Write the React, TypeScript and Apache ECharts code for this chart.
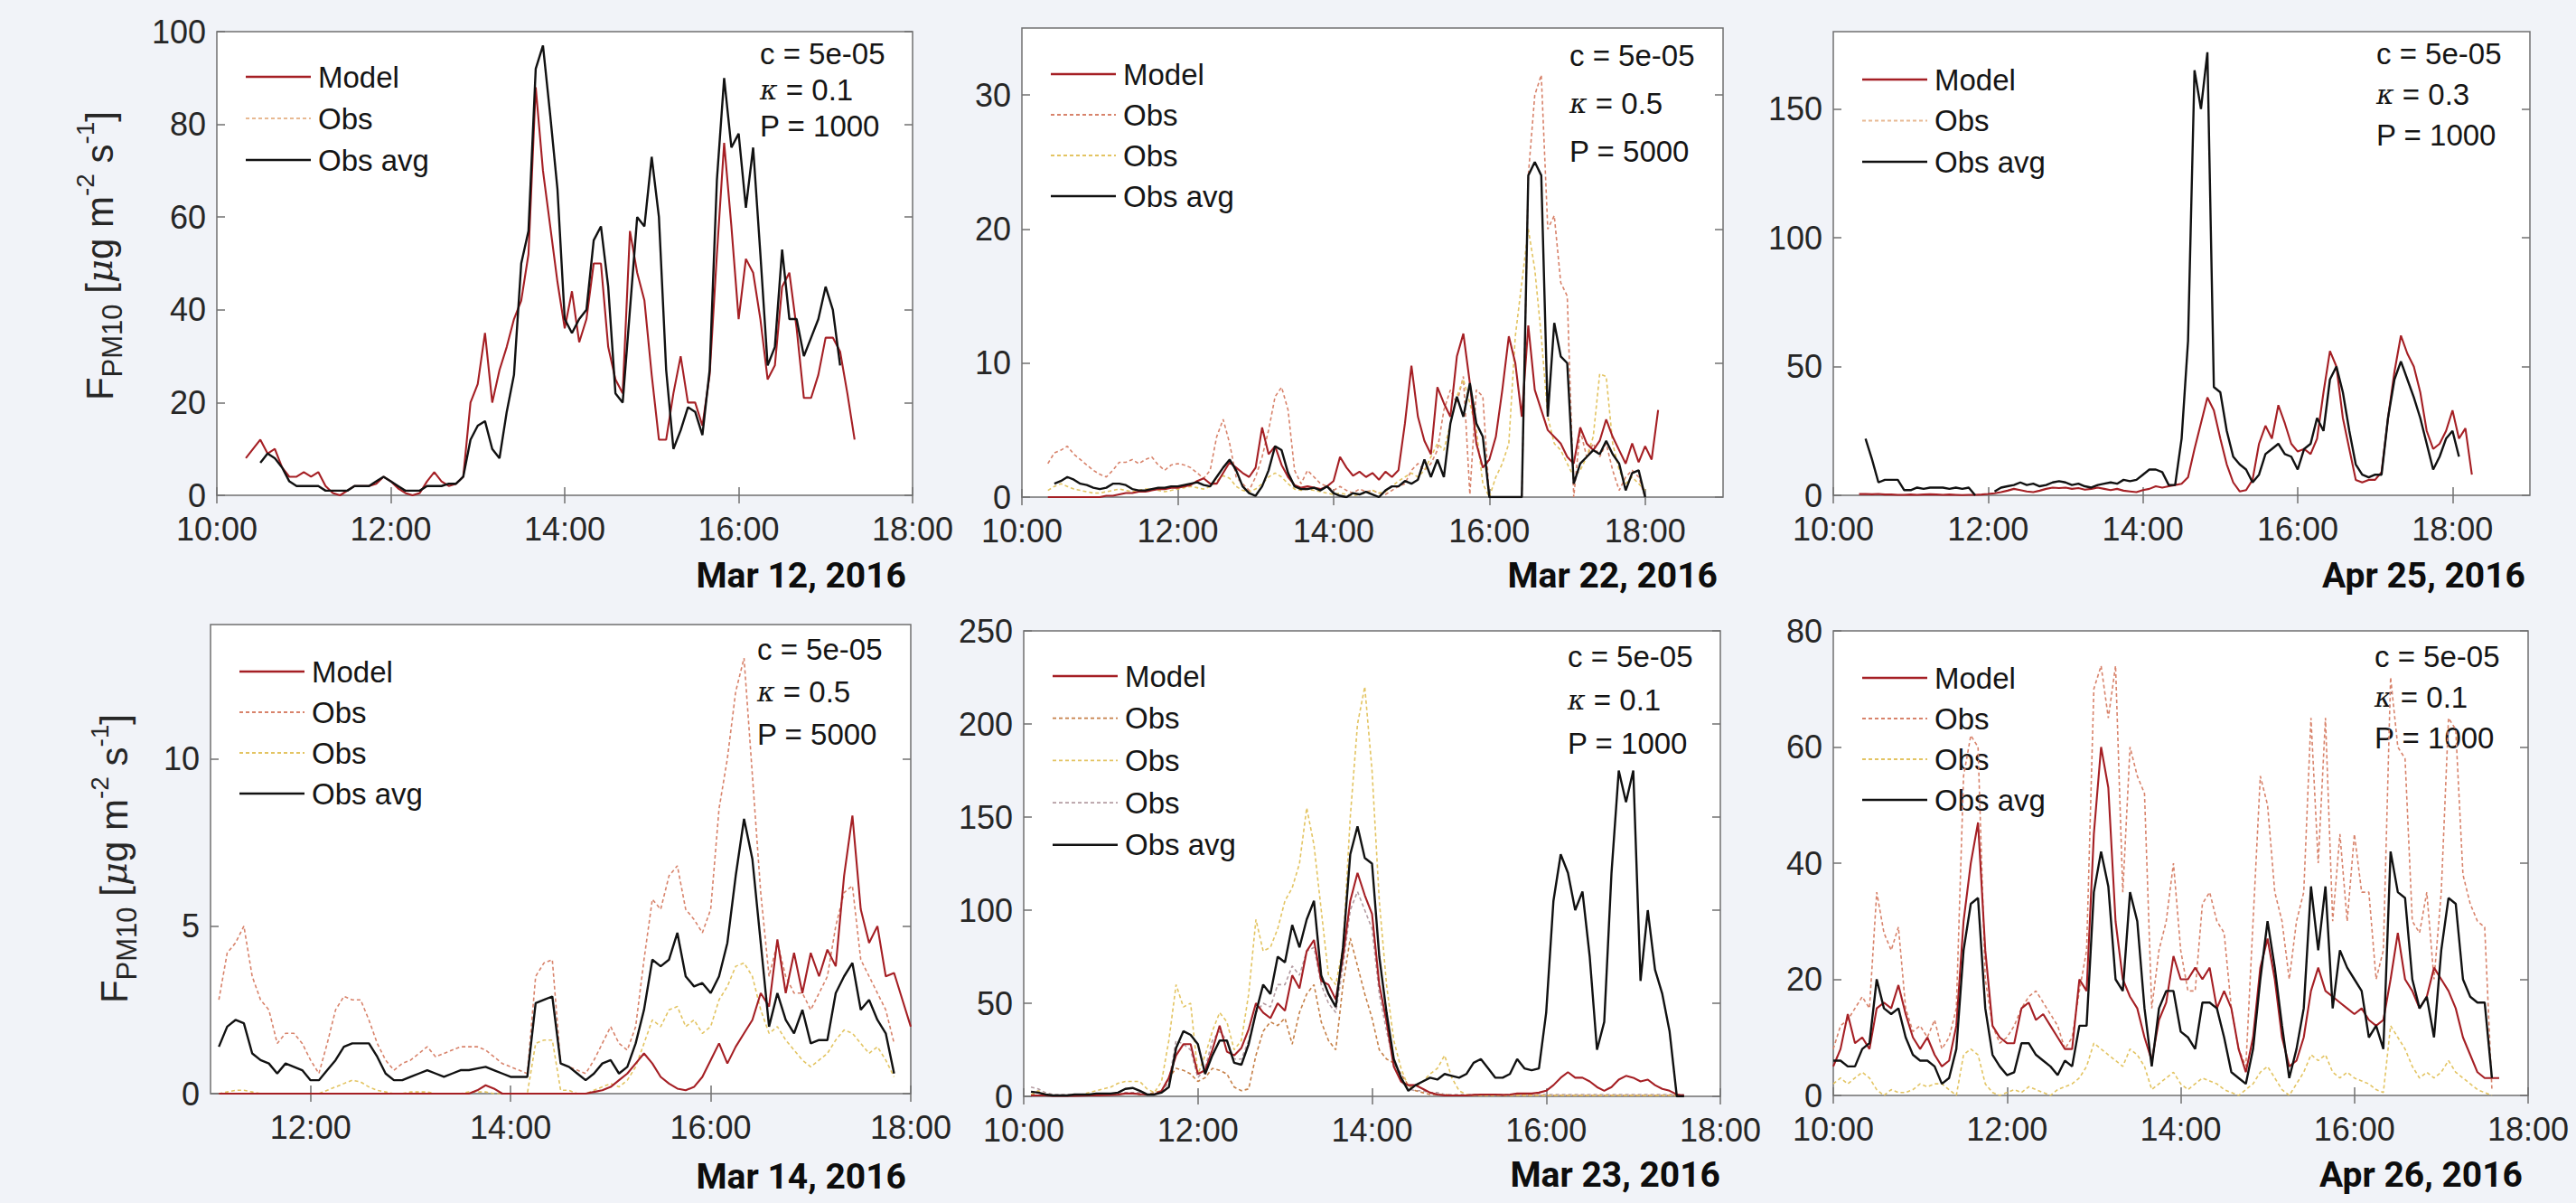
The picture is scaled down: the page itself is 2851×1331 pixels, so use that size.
import React, { useEffect, useRef } from "react";
import * as echarts from "echarts";

// ---------------- DATA (5-minute samples, one row per hour) ----------------
// Panel 1: Mar 12, 2016
const P1_MODEL_START = "10:20";
const P1_MODEL = [
  8, 10, 12, 9, 10, 6, 4, 4,
  5, 4, 5, 2, 0.5, 0, 1, 2, 2, 2, 2.5, 4,
  3, 1.5, 0.5, 0, 0.5, 3, 5, 3, 2, 2.5, 4, 20,
  24, 35, 20, 27, 32, 38, 42, 52, 88, 70, 58, 46,
  36, 44, 33, 38, 50, 50, 32, 25, 22, 57, 48, 42,
  26, 12, 12, 22, 30, 20, 20, 15, 26, 52, 76, 58,
  38, 51, 48, 38, 25, 28, 45, 48, 36, 21, 21, 26,
  34, 34, 31, 22, 12,
];
const P1_AVG_START = "10:30";
const P1_AVG = [
  7, 9, 8, 6, 3, 2,
  2, 2, 2, 1, 1, 1, 1, 2, 2, 2, 3, 4,
  3, 2, 1, 1, 1, 2, 2, 2, 2.5, 2.5, 4, 12,
  15, 16, 10, 8, 18, 26, 50, 57, 92, 97, 82, 66,
  38, 35, 38, 40, 55, 58, 45, 22, 20, 40, 60, 58,
  73, 60, 27, 10, 14, 19, 18, 13, 27, 68, 90, 75,
  78, 62, 75, 52, 28, 32, 53, 38, 38, 30, 34, 38,
  45, 40, 28,
];

// Panel 2: Mar 22, 2016
const P2_MODEL_START = "10:20";
const P2_MODEL = [
  0, 0, 0, 0, 0, 0, 0, 0,
  0, 0.1, 0.1, 0.2, 0.3, 0.3, 0.4, 0.4, 0.5, 0.6, 0.6, 0.7,
  0.7, 0.8, 0.9, 1.2, 1.4, 1.0, 1.0, 1.8, 2.6, 2.2, 1.8, 1.5,
  2.2, 5.2, 3.2, 3.8, 2.4, 1.5, 0.9, 0.7, 0.8, 0.7, 0.6, 0.8,
  1.2, 3.0, 2.2, 1.6, 1.9, 1.5, 1.8, 1.3, 1.9, 1.5, 2.0, 5.5,
  9.8, 6.0, 4.2, 3.2, 8.2, 7.0, 6.0, 10.5, 12.2, 8.5, 4.0, 2.2,
  2.8, 4.5, 8.0, 12.0, 10.0, 6.0, 12.8, 8.0, 6.5, 5.0, 4.5, 4.0,
  3.0, 2.5, 5.2, 4.0, 3.5, 4.2, 5.8, 4.5, 3.5, 2.5, 4.0, 2.6,
  3.8, 2.8, 6.5,
];
const P2_OBS1_START = "10:20";
const P2_OBS1 = [
  2.5, 3.3, 3.5, 3.8, 3.2, 2.8, 2.4, 2.0,
  1.7, 1.5, 2.0, 2.6, 2.6, 2.8, 2.5, 2.8, 3.0, 2.4, 2.0, 2.4,
  2.5, 2.4, 2.2, 1.8, 1.4, 2.0, 4.5, 5.8, 4.0, 1.5, 1.0, 0.5,
  1.5, 3.0, 5.0, 7.5, 8.2, 6.5, 2.0, 1.0, 2.0, 1.5, 1.0, 0.8,
  0.5, 0.8, 0.5, 0.3, 0.6, 0.4, 0.5, 0.3, 0.2, 0.5, 0.8, 1.0,
  2.0, 2.5, 2.0, 2.5, 3.5, 6.5, 8.0, 7.0, 9.0, 0.2, 8.0, 7.5,
  0, 0, 0, 0, 0, 0, 24, 30, 31.5, 20, 21, 16,
  15, 0, 5, 3, 4, 3, 4, 2, 0.5, 1.5, 2, 1.5,
  0,
];
const P2_OBS2_START = "10:20";
const P2_OBS2 = [
  0.5, 0.8, 1.0, 0.8, 0.6, 0.5, 0.4, 0.3,
  0.3, 0.4, 0.5, 0.6, 0.5, 0.4, 0.5, 0.6, 0.6, 0.5, 0.4, 0.5,
  0.6, 0.7, 0.8, 0.7, 0.6, 0.8, 1.2, 1.6, 1.4, 0.8, 0.5, 0.4,
  0.6, 1.0, 1.5, 1.8, 1.5, 1.0, 0.6, 0.5, 0.6, 0.5, 0.4, 0.3,
  0.2, 0.3, 0.2, 0.1, 0.2, 0.3, 0.5, 0.3, 0.4, 0.8, 1.2, 1.5,
  1.8, 1.5, 2.0, 3.0, 4.0, 3.5, 5.5, 7.5, 8.8, 7.0, 5.0, 1.0,
  0.0, 1.5, 2.5, 4.0, 12.0, 16.0, 20.0, 17.0, 12.0, 6.0, 4.0, 3.5,
  2.5, 1.5, 2.0, 3.0, 4.5, 9.2, 9.0, 4.0, 2.0, 1.0, 1.5, 1.0,
  0.5,
];
const P2_AVG_START = "10:25";
const P2_AVG = [
  1.0, 1.2, 1.5, 1.3, 1.0, 0.9, 0.7,
  0.6, 0.7, 1.0, 1.0, 0.9, 0.6, 0.5, 0.5, 0.6, 0.7, 0.7, 0.8,
  0.8, 0.9, 1.0, 1.1, 0.9, 0.8, 1.5, 2.2, 2.8, 2.0, 0.8, 0.3,
  0.1, 0.8, 2.0, 3.8, 3.5, 1.8, 0.8, 0.6, 0.6, 0.7, 0.5, 0.8,
  0.3, 0.1, 0.0, 0.3, 0.2, 0.4, 0.2, 0.0, 0.5, 0.8, 0.8, 1.2,
  1.0, 1.3, 2.8, 1.5, 2.8, 1.5, 5.5, 7.5, 6.0, 8.5, 5.5, 4.5,
  0, 0, 0, 0, 0, 0, 24, 25, 24, 6, 13, 10.5,
  10, 1.0, 2.5, 3.0, 3.5, 3.2, 4.2, 3.2, 2.5, 0.5, 1.8, 2.0,
  0,
];

// Panel 3: Apr 25, 2016
const P3_MODEL_START = "10:20";
const P3_MODEL = [
  0.5, 0.5, 0.4, 0.5, 0.3, 0.3, 0.2, 0.2,
  0.3, 0.2, 0.3, 0.4, 0.3, 0.2, 0.3, 0.2, 0.1, 0.2, 0.2, 0.3,
  0.5, 0.8, 1.2, 1.8, 2.5, 2.0, 1.5, 1.2, 1.8, 2.5, 3.0, 2.8,
  3.0, 2.5, 2.8, 2.2, 2.5, 3.0, 2.5, 2.0, 2.5, 1.8, 1.5, 1.2,
  2.0, 2.5, 3.5, 3.0, 3.5, 4.0, 4.5, 7, 18, 28, 38, 33,
  22, 12, 5, 1.5, 2, 6, 20, 27, 22, 35, 28, 20,
  17, 18, 16, 22, 40, 56, 50, 30, 18, 6, 5, 6,
  6, 9, 30, 48, 62, 55, 50, 40, 25, 18, 20, 25,
  33, 22, 26, 8,
];
const P3_AVG_START = "10:25";
const P3_AVG = [
  22, 14, 5, 6, 6, 6, 2,
  2, 3, 2.5, 3, 3, 3, 2.5, 3, 2.5, 3, 0, null,
  null, 1.5, 3, 3.5, 4, 5, 4, 4.5, 3.5, 4, 5, 5.5,
  5, 4, 4.5, 3.5, 3, 4, 4.5, 5, 4.5, 6, 5.5, 6,
  8, 10, 10, 9, 4, 4, 22, 60, 165, 150, 172, 42,
  40, 25, 15, 12, 10, 5, 8, 16, 18, 20, 16, 15,
  10, 18, 20, 30, 25, 45, 50, 40, 25, 12, 8, 7,
  8, 8, 30, 45, 52, 45, 38, 30, 20, 10, 15, 22,
  25, 15,
];

// Panel 4: Mar 14, 2016
const P4_MODEL_START = "11:05";
const P4_MODEL = [
  0, 0, 0, 0, 0, 0, 0, 0, 0, 0, 0,
  0, 0, 0, 0, 0, 0, 0, 0, 0, 0, 0, 0,
  0, 0, 0, 0, 0, 0, 0, 0, 0.1, 0.25, 0.15, 0,
  0, 0, 0, 0, 0, 0, 0, 0, 0, 0, 0.05, 0.1,
  0.2, 0.4, 0.6, 0.9, 1.2, 0.9, 0.5, 0.3, 0.15, 0.1, 0.2, 0.5,
  1.0, 1.5, 0.9, 1.4, 1.8, 2.2, 3.0, 2.6, 4.6, 3.0, 4.2, 3.0,
  4.2, 3.5, 4.3, 3.8, 6.5, 8.3, 5.5, 4.5, 5.0, 3.5, 3.6, 2.8,
  2.0,
];
const P4_OBS1_START = "11:05";
const P4_OBS1 = [
  2.8, 4.2, 4.5, 5.0, 3.5, 2.8, 2.5, 1.5, 1.8, 1.8, 1.5,
  1.0, 0.6, 1.5, 2.5, 2.9, 2.8, 2.8, 2.2, 1.5, 1.0, 0.7, 0.9,
  1.0, 1.2, 1.4, 1.1, 1.2, 1.3, 1.4, 1.4, 1.4, 1.3, 1.1, 0.9,
  0.8, 0.7, 0.6, 3.5, 3.9, 4.0, 0.9, 0.8, 0.7, 0.6, 1.0, 1.5,
  2.0, 1.5, 1.3, 2.0, 4.0, 5.8, 5.5, 6.5, 6.8, 5.5, 5.2, 4.8,
  5.5, 8.5, 10.0, 12.0, 13.0, 9.5, 6.0, 3.5, 4.5, 3.5, 3.0, 3.0,
  2.5, 3.0, 3.5, 5.0, 6.0, 6.2, 4.0, 3.5, 3.0, 2.5, 1.5,
];
const P4_OBS2_START = "11:05";
const P4_OBS2 = [
  0, 0.05, 0.1, 0.1, 0.05, 0, 0, 0, 0, 0, 0,
  0, 0, 0.1, 0.2, 0.3, 0.4, 0.35, 0.2, 0.1, 0.05, 0, 0,
  0.05, 0.05, 0.05, 0, 0, 0, 0, 0.05, 0.05, 0.05, 0, 0,
  0, 0, 0, 1.5, 1.6, 1.6, 0.1, 0.1, 0, 0, 0.1, 0.2,
  0.3, 0.2, 0.4, 0.8, 1.5, 2.2, 2.0, 2.5, 2.6, 2.0, 2.2, 1.8,
  2.0, 2.8, 3.2, 3.8, 3.9, 3.5, 2.5, 1.8, 2.0, 1.6, 1.3, 1.0,
  0.8, 1.0, 1.2, 1.6, 1.9, 1.8, 1.5, 1.2, 1.4, 1.0, 0.5,
];
const P4_AVG_START = "11:05";
const P4_AVG = [
  1.4, 2.0, 2.2, 2.1, 1.2, 1.0, 0.9, 0.6, 0.9, 0.8, 0.7,
  0.4, 0.4, 0.7, 1.0, 1.4, 1.5, 1.5, 1.5, 1.1, 0.6, 0.4, 0.4,
  0.5, 0.6, 0.7, 0.6, 0.5, 0.6, 0.7, 0.7, 0.75, 0.8, 0.7, 0.6,
  0.5, 0.5, 0.5, 2.7, 2.8, 2.9, 0.9, 0.8, 0.6, 0.4, 0.6, 0.9,
  1.0, 0.6, 0.8, 1.5, 2.5, 4.0, 3.8, 4.0, 4.8, 3.5, 3.2, 3.3,
  3.0, 3.5, 4.5, 6.5, 8.2, 7.0, 4.5, 2.0, 3.0, 2.2, 1.8, 2.5,
  1.5, 1.6, 1.6, 3.0, 3.5, 3.9, 2.5, 2.8, 2.2, 1.8, 0.6,
];

// Panel 5: Mar 23, 2016
const P5_MODEL_START = "10:05";
const P5_MODEL = [
  0.5, 0.5, 0.5, 0.3, 0.3, 0.3, 0.3, 0.4, 0.5, 0.5, 0.6,
  0.8, 1, 1.5, 1.5, 1.2, 1, 1, 3, 10, 22, 28, 28,
  12, 14, 25, 38, 24, 22, 26, 36, 50, 45, 42, 50,
  46, 65, 58, 78, 84, 62, 60, 52, 75, 105, 120, 108,
  98, 60, 40, 16, 8, 6, 6, 4, 2, 1, 0.5, 0.5,
  0.5, 0.5, 0.8, 1, 1, 1, 0.8, 1, 1.5, 1.5, 1.5, 2,
  3, 6, 10, 13, 10, 10, 8, 5, 3, 5, 9, 11,
  10, 8, 9, 6, 4, 3, 1, 0.5,
];
const P5_OBS1_START = "10:05";
const P5_OBS1 = [
  1, 2, 1, 0.5, 0.5, 0.5, 0.5, 0.5, 0.5, 1, 1,
  1, 1, 1.5, 1.5, 1, 1, 2, 3, 10, 15, 14, 12,
  8, 10, 15, 14, 12, 5, 3, 4, 22, 35, 40, 38,
  42, 28, 45, 55, 60, 40, 30, 25, 60, 85, 70, 55,
  42, 25, 20, 18, 12, 6, 3, 2, 1, 1, 1, 0.5,
  0.5, 0.5, 0.5, 0.5, 0.5, 0.5, 0.5, 0.5, 0.5, 0.5, 0.5, 0.5,
  0.5, 0.5, 0.5, 0.5, 0.5, 0.5, 0.5, 0.5, 0.5, 0.5, 0.5, 0.5,
  0.5, 0.5, 0.5, 0.5, 0.5, 0.5, 0.5, 0.5,
];
const P5_OBS2_START = "10:05";
const P5_OBS2 = [
  1, 3, 1, 0.5, 0.5, 0.5, 1, 1, 2, 3, 4,
  5, 7, 8, 8, 8, 4, 2, 8, 30, 60, 48, 50,
  12, 22, 35, 45, 40, 25, 30, 55, 95, 78, 80, 90,
  105, 112, 125, 155, 135, 100, 65, 60, 80, 150, 200, 220,
  175, 105, 60, 30, 15, 5, 5, 8, 12, 15, 22, 10,
  3, 1, 0.5, 0.5, 0.5, 0.5, 0.5, 0.5, 0.5, 0.5, 0.5, 0.5,
  0.5, 0.5, 0.5, 0.5, 0.5, 0.5, 0.5, 0.5, 0.5, 0.5, 0.5, 0.5,
  0.5, 0.5, 0.5, 0.5, 0.5, 0.5, 0.5, 0.5,
];
const P5_OBS3_START = "10:05";
const P5_OBS3 = [
  5, 4, 2, 1, 1, 1, 1, 1, 1, 1, 1,
  1, 1, 2, 2, 2, 1, 1, 2, 8, 30, 28, 25,
  10, 15, 30, 35, 30, 20, 20, 30, 45, 50, 48, 60,
  60, 70, 65, 78, 80, 60, 50, 45, 70, 100, 110, 100,
  90, 55, 35, 18, 8, 4, 3, 3, 2, 2, 1, 1,
  1, 1, 1, 1, 1, 1, 1, 1, 1, 1, 1, 1,
  1, 1, 1, 1, 1, 1, 1, 1, 1, 1, 1, 1,
  1, 1, 1, 1, 1, 1, 1, 1,
];
const P5_AVG_START = "10:05";
const P5_AVG = [
  2.5, 2, 1, 0.5, 0.5, 0.5, 1, 1, 1, 1.5, 1.5,
  1.5, 2, 4, 4.5, 3, 1, 1, 2, 5, 26, 35, 33,
  28, 12, 22, 30, 30, 18, 17, 28, 45, 60, 55, 75,
  72, 92, 80, 95, 105, 65, 55, 48, 80, 130, 145, 128,
  125, 75, 45, 20, 10, 3, 6, 8, 10, 9, 12, 11,
  10, 12, 18, 20, 15, 10, 10, 12, 20, 15, 14, 15,
  45, 105, 130, 120, 100, 110, 75, 25, 40, 120, 175, 158,
  175, 62, 100, 68, 55, 35, 0, 0,
];

// Panel 6: Apr 26, 2016
const P6_MODEL_START = "10:00";
const P6_MODEL = [
  5, 8, 14, 9, 10, 8, 15, 16, 15, 19, 14, 10,
  8, 10, 7, 5, 6, 12, 30, 40, 47, 25, 12, 10,
  9, 9, 15, 16, 13, 14, 12, 10, 8, 8, 20, 18,
  45, 60, 53, 30, 20, 17, 15, 10, 6, 13, 16, 24,
  20, 20, 22, 20, 22, 15, 18, 15, 8, 4, 10, 22,
  27, 20, 10, 5, 6, 10, 18, 22, 18, 17, 16, 15,
  14, 15, 13, 12, 13, 20, 28, 20, 18, 15, 17, 22,
  20, 18, 15, 10, 7, 4, 3, 3, 3,
];
const P6_OBS1_START = "10:00";
const P6_OBS1 = [
  8, 12, 13, 15, 17, 15, 35, 28, 25, 29, 15, 11,
  12, 10, 13, 8, 10, 15, 55, 62, 60, 20, 12, 9,
  10, 12, 15, 17, 18, 16, 14, 12, 8, 10, 18, 25,
  70, 74, 65, 74, 35, 60, 55, 52, 15, 25, 30, 40,
  25, 18, 18, 33, 35, 30, 28, 15, 8, 5, 30, 55,
  50, 35, 30, 20, 30, 35, 65, 40, 65, 30, 45, 30,
  45, 35, 35, 20, 25, 72, 60, 58, 30, 28, 35, 20,
  35, 65, 63, 38, 33, 30, 29, 1,
];
const P6_OBS2_START = "10:00";
const P6_OBS2 = [
  2, 3, 2, 3, 4, 3, 1, 0, 1, 0.5, 0.5, 1,
  2, 1.5, 2, 2, 1, 0, 7, 8, 7, 2, 0.5, 0,
  0.5, 1, 0.5, 1.5, 1, 0.5, 0, 1, 1.5, 2, 3, 5,
  9, 8, 7, 6, 5, 8, 7, 5, 1, 2, 3, 4,
  2, 1, 2, 3, 2.5, 2, 1, 0.5, 0, 1, 2, 4,
  5, 3, 1, 0, 2, 4, 7, 6, 7, 4, 3, 4,
  3, 2.5, 2, 1, 0.5, 12, 10, 8, 5, 3, 4, 3,
  4, 6, 4, 3, 2, 1, 0.5, 0,
];
const P6_AVG_START = "10:00";
const P6_AVG = [
  6, 6, 5, 5, 8, 9, 20, 15, 14, 15, 10, 7,
  6, 6, 5, 2, 3, 8, 25, 33, 34, 15, 7, 5,
  3.5, 4, 9, 9, 7, 6, 5, 3.5, 6, 5, 12, 12,
  35, 42, 36, 20, 18, 35, 30, 15, 5, 15, 18, 18,
  11, 10, 8, 16, 16, 15, 10, 4, 3, 2, 8, 20,
  30, 22, 12, 3, 8, 15, 36, 25, 36, 15, 25, 22,
  20, 18, 10, 12, 8, 42, 35, 34, 20, 15, 17, 10,
  25, 34, 33, 20, 17, 16, 16, 3,
];

// Axis ticks
const X_TICKS_A = [10, 12, 14, 16, 18];
const X_TICKS_B = [12, 14, 16, 18];
const Y_TICKS_1 = [0, 20, 40, 60, 80, 100];
const Y_TICKS_2 = [0, 10, 20, 30];
const Y_TICKS_3 = [0, 50, 100, 150];
const Y_TICKS_4 = [0, 5, 10];
const Y_TICKS_5 = [0, 50, 100, 150, 200, 250];
const Y_TICKS_6 = [0, 20, 40, 60, 80];

const DATES = ["Mar 12, 2016", "Mar 22, 2016", "Apr 25, 2016", "Mar 14, 2016", "Mar 23, 2016", "Apr 26, 2016"];
const PARAM_C = ["5e-05", "5e-05", "5e-05", "5e-05", "5e-05", "5e-05"];
const PARAM_K = ["0.1", "0.5", "0.3", "0.5", "0.1", "0.1"];
const PARAM_P = ["1000", "5000", "1000", "5000", "1000", "1000"];

// ---------------- STYLE ----------------
const FONT = '"Liberation Sans", Arial, Helvetica, sans-serif';
const BG = "#f1f3f8";
const C_MODEL = "#a51f24";
const C_AVG = "#111111";
const C_SALMON = "#d8836b";
const C_YELLOW = "#e3c462";
const C_BROWN = "#c68048";
const C_MAUVE = "#b49ca2";
const C_FAINT = "#e8b992";
const AXIS_C = "#707070";
const TEXT_C = "#262626";

const toH = (s: string) => {
  const [h, m] = s.split(":").map(Number);
  return h + m / 60;
};
const pairs = (start: string, vals: (number | null)[]) => {
  const t0 = toH(start);
  return vals.map((v, i) => [t0 + (i * 5) / 60, v]);
};

type S = { name: string; start: string; vals: (number | null)[]; color: string; kind: "model" | "obs" | "avg" };
type L = { name: string; color: string; kind: "model" | "obs" | "avg" };

const panels = [
  {
    g: { left: 240, top: 35, width: 770, height: 513 },
    xMin: 10, xMax: 18, xTicks: X_TICKS_A, yMax: 100, yTicks: Y_TICKS_1,
    series: [
      { name: "Model", start: P1_MODEL_START, vals: P1_MODEL, color: C_MODEL, kind: "model" },
      { name: "Obs avg", start: P1_AVG_START, vals: P1_AVG, color: C_AVG, kind: "avg" },
    ] as S[],
    legend: [
      { name: "Model", color: C_MODEL, kind: "model" },
      { name: "Obs", color: C_FAINT, kind: "obs" },
      { name: "Obs avg", color: C_AVG, kind: "avg" },
    ] as L[],
    leg: { y0: 85, dy: 46 }, ann: { x: 841, y0: 59, dy: 40 }, date: { x: 1003, y: 637 },
    ytitle: { x: 110, y: 283 },
  },
  {
    g: { left: 1131, top: 31, width: 776, height: 519 },
    xMin: 10, xMax: 19, xTicks: X_TICKS_A, yMax: 35, yTicks: Y_TICKS_2,
    series: [
      { name: "Obs", start: P2_OBS1_START, vals: P2_OBS1, color: C_SALMON, kind: "obs" },
      { name: "Obs", start: P2_OBS2_START, vals: P2_OBS2, color: C_YELLOW, kind: "obs" },
      { name: "Model", start: P2_MODEL_START, vals: P2_MODEL, color: C_MODEL, kind: "model" },
      { name: "Obs avg", start: P2_AVG_START, vals: P2_AVG, color: C_AVG, kind: "avg" },
    ] as S[],
    legend: [
      { name: "Model", color: C_MODEL, kind: "model" },
      { name: "Obs", color: C_SALMON, kind: "obs" },
      { name: "Obs", color: C_YELLOW, kind: "obs" },
      { name: "Obs avg", color: C_AVG, kind: "avg" },
    ] as L[],
    leg: { y0: 82, dy: 45 }, ann: { x: 1737, y0: 61, dy: 53 }, date: { x: 1901, y: 637 },
    ytitle: null,
  },
  {
    g: { left: 2029, top: 35, width: 771, height: 513 },
    xMin: 10, xMax: 19, xTicks: X_TICKS_A, yMax: 180, yTicks: Y_TICKS_3,
    series: [
      { name: "Model", start: P3_MODEL_START, vals: P3_MODEL, color: C_MODEL, kind: "model" },
      { name: "Obs avg", start: P3_AVG_START, vals: P3_AVG, color: C_AVG, kind: "avg" },
    ] as S[],
    legend: [
      { name: "Model", color: C_MODEL, kind: "model" },
      { name: "Obs", color: C_FAINT, kind: "obs" },
      { name: "Obs avg", color: C_AVG, kind: "avg" },
    ] as L[],
    leg: { y0: 88, dy: 45.5 }, ann: { x: 2630, y0: 59, dy: 45 }, date: { x: 2795, y: 637 },
    ytitle: null,
  },
  {
    g: { left: 233, top: 691, width: 775, height: 519 },
    xMin: 11, xMax: 18, xTicks: X_TICKS_B, yMax: 14, yTicks: Y_TICKS_4,
    series: [
      { name: "Obs", start: P4_OBS1_START, vals: P4_OBS1, color: C_SALMON, kind: "obs" },
      { name: "Obs", start: P4_OBS2_START, vals: P4_OBS2, color: C_YELLOW, kind: "obs" },
      { name: "Model", start: P4_MODEL_START, vals: P4_MODEL, color: C_MODEL, kind: "model" },
      { name: "Obs avg", start: P4_AVG_START, vals: P4_AVG, color: C_AVG, kind: "avg" },
    ] as S[],
    legend: [
      { name: "Model", color: C_MODEL, kind: "model" },
      { name: "Obs", color: C_SALMON, kind: "obs" },
      { name: "Obs", color: C_YELLOW, kind: "obs" },
      { name: "Obs avg", color: C_AVG, kind: "avg" },
    ] as L[],
    leg: { y0: 743, dy: 45 }, ann: { x: 838, y0: 718, dy: 47 }, date: { x: 1003, y: 1302 },
    ytitle: { x: 126, y: 950 },
  },
  {
    g: { left: 1133, top: 698, width: 771, height: 515 },
    xMin: 10, xMax: 18, xTicks: X_TICKS_A, yMax: 250, yTicks: Y_TICKS_5,
    series: [
      { name: "Obs", start: P5_OBS3_START, vals: P5_OBS3, color: C_MAUVE, kind: "obs" },
      { name: "Obs", start: P5_OBS1_START, vals: P5_OBS1, color: C_BROWN, kind: "obs" },
      { name: "Obs", start: P5_OBS2_START, vals: P5_OBS2, color: C_YELLOW, kind: "obs" },
      { name: "Model", start: P5_MODEL_START, vals: P5_MODEL, color: C_MODEL, kind: "model" },
      { name: "Obs avg", start: P5_AVG_START, vals: P5_AVG, color: C_AVG, kind: "avg" },
    ] as S[],
    legend: [
      { name: "Model", color: C_MODEL, kind: "model" },
      { name: "Obs", color: C_BROWN, kind: "obs" },
      { name: "Obs", color: C_YELLOW, kind: "obs" },
      { name: "Obs", color: C_MAUVE, kind: "obs" },
      { name: "Obs avg", color: C_AVG, kind: "avg" },
    ] as L[],
    leg: { y0: 748, dy: 46.7 }, ann: { x: 1735, y0: 726, dy: 48 }, date: { x: 1904, y: 1300 },
    ytitle: null,
  },
  {
    g: { left: 2029, top: 698, width: 769, height: 514 },
    xMin: 10, xMax: 18, xTicks: X_TICKS_A, yMax: 80, yTicks: Y_TICKS_6,
    series: [
      { name: "Obs", start: P6_OBS1_START, vals: P6_OBS1, color: C_SALMON, kind: "obs" },
      { name: "Obs", start: P6_OBS2_START, vals: P6_OBS2, color: C_YELLOW, kind: "obs" },
      { name: "Model", start: P6_MODEL_START, vals: P6_MODEL, color: C_MODEL, kind: "model" },
      { name: "Obs avg", start: P6_AVG_START, vals: P6_AVG, color: C_AVG, kind: "avg" },
    ] as S[],
    legend: [
      { name: "Model", color: C_MODEL, kind: "model" },
      { name: "Obs", color: C_SALMON, kind: "obs" },
      { name: "Obs", color: C_YELLOW, kind: "obs" },
      { name: "Obs avg", color: C_AVG, kind: "avg" },
    ] as L[],
    leg: { y0: 750, dy: 45 }, ann: { x: 2628, y0: 726, dy: 45 }, date: { x: 2792, y: 1300 },
    ytitle: null,
  },
];

const lineW = (k: string) => (k === "avg" ? 2.4 : k === "model" ? 2.1 : 1.6);
const dash = (k: string) => (k === "obs" ? [4, 3] : undefined);

function buildOption() {
  const grid: any[] = [];
  const xAxis: any[] = [];
  const yAxis: any[] = [];
  const series: any[] = [];
  const graphic: any[] = [];

  panels.forEach((p, i) => {
    grid.push({
      ...p.g,
      show: true,
      backgroundColor: "#ffffff",
      borderColor: AXIS_C,
      borderWidth: 1.5,
      containLabel: false,
    });
    const tick = { show: true, inside: true, length: 9, lineStyle: { color: AXIS_C, width: 1.5 } };
    ["bottom", "top"].forEach((pos) => {
      xAxis.push({
        gridIndex: i,
        type: "value",
        position: pos,
        min: p.xMin,
        max: p.xMax,
        axisLine: { show: false },
        splitLine: { show: false },
        axisTick: { ...tick, customValues: p.xTicks },
        axisLabel: {
          show: pos === "bottom",
          customValues: p.xTicks,
          formatter: (v: number) => `${v}:00`,
          fontFamily: FONT,
          fontSize: 36,
          color: TEXT_C,
          margin: 19,
        },
      });
    });
    ["left", "right"].forEach((pos) => {
      yAxis.push({
        gridIndex: i,
        type: "value",
        position: pos,
        min: 0,
        max: p.yMax,
        axisLine: { show: false },
        splitLine: { show: false },
        axisTick: { ...tick, customValues: p.yTicks },
        axisLabel: {
          show: pos === "left",
          customValues: p.yTicks,
          fontFamily: FONT,
          fontSize: 36,
          color: TEXT_C,
          margin: 12,
        },
      });
    });
    p.series.forEach((s) => {
      series.push({
        type: "line",
        name: s.name,
        xAxisIndex: i * 2,
        yAxisIndex: i * 2,
        data: pairs(s.start, s.vals),
        showSymbol: false,
        symbol: "none",
        connectNulls: false,
        clip: true,
        silent: true,
        lineStyle: { color: s.color, width: lineW(s.kind), type: dash(s.kind) ?? "solid" },
      });
    });

    // legend (drawn manually, MATLAB style)
    const lx = p.g.left + 32;
    p.legend.forEach((l, j) => {
      const y = p.leg.y0 + j * p.leg.dy;
      graphic.push({
        type: "line",
        silent: true,
        shape: { x1: lx, y1: y, x2: lx + 72, y2: y },
        style: { stroke: l.color, lineWidth: l.kind === "obs" ? 1.8 : 2.4, lineDash: dash(l.kind) ?? null },
      });
      graphic.push({
        type: "text",
        silent: true,
        x: lx + 80,
        y,
        style: { text: l.name, fill: "#151515", font: `33px ${FONT}`, align: "left", verticalAlign: "middle" },
      });
    });

    // parameter annotation
    const annRich = {
      n: { fontFamily: FONT, fontSize: 33, fill: "#151515", color: "#151515" },
      i: { fontFamily: "DejaVu Serif, serif", fontStyle: "italic", fontSize: 30, fill: "#151515", color: "#151515" },
    };
    const annLines = [`{n|c = ${PARAM_C[i]}}`, `{i|κ}{n| = ${PARAM_K[i]}}`, `{n|P = ${PARAM_P[i]}}`];
    annLines.forEach((t, j) => {
      graphic.push({
        type: "text",
        silent: true,
        x: p.ann.x,
        y: p.ann.y0 + j * p.ann.dy,
        style: { text: t, rich: annRich, fill: "#151515", font: `33px ${FONT}`, align: "left", verticalAlign: "middle" },
      });
    });

    // date
    graphic.push({
      type: "text",
      silent: true,
      x: p.date.x,
      y: p.date.y,
      style: {
        text: DATES[i],
        fill: "#0d0d0d",
        font: `bold 39px Roboto, "Liberation Sans", sans-serif`,
        align: "right",
        verticalAlign: "middle",
      },
    });

    // y-axis title on left column
    if (p.ytitle) {
      const base = { fontFamily: FONT, fill: "#262626", color: "#262626" };
      graphic.push({
        type: "text",
        silent: true,
        x: p.ytitle.x,
        y: p.ytitle.y,
        rotation: Math.PI / 2,
        style: {
          text: "{n|F}{s|PM10}{n| [}{m|μ}{n|g m}{u|-2}{n| s}{u|-1}{n|]}",
          rich: {
            n: { ...base, fontSize: 42, lineHeight: 60 },
            m: { ...base, fontFamily: "DejaVu Serif, serif", fontStyle: "italic", fontSize: 40, lineHeight: 60 },
            s: { ...base, fontSize: 31, lineHeight: 31, verticalAlign: "bottom" },
            u: { ...base, fontSize: 28, lineHeight: 28, verticalAlign: "top" },
          },
          align: "center",
          verticalAlign: "middle",
        },
      });
    }
  });

  return {
    animation: false,
    backgroundColor: BG,
    grid,
    xAxis,
    yAxis,
    series,
    graphic: { elements: graphic },
  };
}

export default function App() {
  const ref = useRef<HTMLDivElement>(null);
  useEffect(() => {
    if (!ref.current) return;
    const chart = echarts.init(ref.current, null, { renderer: "svg" });
    chart.setOption(buildOption() as any);
    return () => chart.dispose();
  }, []);
  return (
    <div
      ref={ref}
      style={{ position: "fixed", left: 0, top: 0, width: 2851, height: 1331 }}
    />
  );
}
